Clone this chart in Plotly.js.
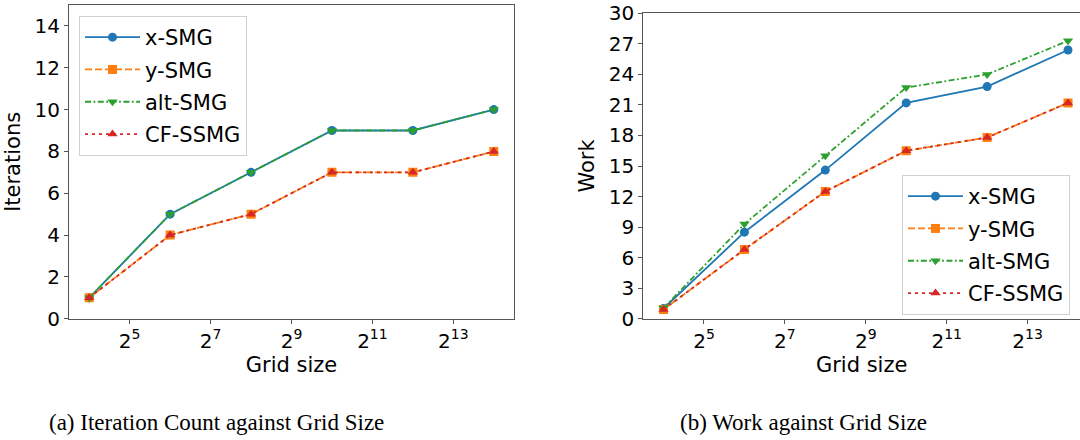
<!DOCTYPE html>
<html><head><meta charset="utf-8">
<script src="https://cdn.plot.ly/plotly-3.0.1.min.js"></script>
<style>html,body{margin:0;padding:0;background:#fff;overflow:hidden}</style>
</head><body><div id="chart" style="width:1080px;height:440px"></div>
<script>
const gridSizes = [16, 64, 256, 1024, 4096, 16384];
const seriesNames = ['x-SMG', 'y-SMG', 'alt-SMG', 'CF-SSMG'];
const iterXSMG = [1, 5, 7, 9, 9, 10];
const iterYSMG = [1, 4, 5, 7, 7, 8];
const iterAltSMG = [1, 5, 7, 9, 9, 10];
const iterCFSSMG = [1, 4, 5, 7, 7, 8];
const workXSMG = [1.0, 8.5, 14.6, 21.2, 22.8, 26.4];
const workYSMG = [0.9, 6.8, 12.5, 16.5, 17.8, 21.2];
const workAltSMG = [1.05, 9.3, 16.0, 22.7, 24.0, 27.3];
const workCFSSMG = [0.9, 6.8, 12.5, 16.5, 17.8, 21.2];
const xTickVals = [32, 128, 512, 2048, 8192];
const xTickText = ['2<sup>5</sup>', '2<sup>7</sup>', '2<sup>9</sup>', '2<sup>11</sup>', '2<sup>13</sup>'];
const captions = ['(a) Iteration Count against Grid Size', '(b) Work against Grid Size'];

const colors = ['#1f77b4', '#ff7f0e', '#2ca02c', '#d62728'];
const symbols = ['circle', 'square', 'triangle-down', 'triangle-up'];
const dashes = ['solid', '7px,3px', '6px,2.5px,1.8px,2.5px', '3px,4px'];

const W = 1080, H = 440;
const L2 = Math.log10(2);
const px = v => v / W;
const py = v => 1 - v / H;

const iterSeries = [iterXSMG, iterYSMG, iterAltSMG, iterCFSSMG];
const workSeries = [workXSMG, workYSMG, workAltSMG, workCFSSMG];

const traces = [];
iterSeries.forEach((ys, i) => {
  traces.push({
    x: gridSizes, y: ys, name: seriesNames[i], type: 'scatter', mode: 'lines+markers',
    xaxis: 'x', yaxis: 'y', legend: 'legend', legendgroup: 'a' + i,
    line: {color: colors[i], width: 1.8, dash: dashes[i]},
    marker: {color: colors[i], symbol: symbols[i], size: 9}
  });
});
workSeries.forEach((ys, i) => {
  traces.push({
    x: gridSizes, y: ys, name: seriesNames[i], type: 'scatter', mode: 'lines+markers',
    xaxis: 'x2', yaxis: 'y2', legend: 'legend2', legendgroup: 'b' + i,
    line: {color: colors[i], width: 1.8, dash: dashes[i]},
    marker: {color: colors[i], symbol: symbols[i], size: 9}
  });
});

const spine = '#555';
const tickFont = {family: 'DejaVu Sans', size: 20, color: '#000'};
const titleFont = {family: 'DejaVu Sans', size: 21, color: '#000'};
function xAxis(domain, r1, anchor) {
  return {
    type: 'log', domain: domain, range: [3.5 * L2, r1 * L2], anchor: anchor,
    tickmode: 'array', tickvals: xTickVals, ticktext: xTickText,
    showgrid: false, zeroline: false, showline: true, mirror: true, linecolor: spine, linewidth: 1,
    ticks: 'outside', ticklen: 4, tickcolor: spine, tickfont: tickFont,
    title: {text: 'Grid size', font: titleFont, standoff: 4}
  };
}
function yAxis(domain, range, dtick, title, mirror, anchor) {
  return {
    domain: domain, range: range, dtick: dtick, tick0: 0, anchor: anchor,
    showgrid: false, zeroline: false, showline: true, mirror: mirror, linecolor: spine, linewidth: 1,
    ticks: 'outside', ticklen: 4, tickcolor: spine, tickfont: tickFont,
    title: {text: title, font: titleFont, standoff: 8}
  };
}
const legendStyle = (x, y) => ({
  x: px(x), y: py(y), xanchor: 'left', yanchor: 'top', xref: 'paper', yref: 'paper',
  bgcolor: 'rgba(255,255,255,0.9)', bordercolor: '#d0d0d0', borderwidth: 1,
  font: {family: 'DejaVu Sans', size: 21, color: '#000'}, tracegroupgap: 2, itemwidth: 55
});

const layout = {
  width: W, height: H, margin: {l: 0, r: 0, t: 0, b: 0},
  paper_bgcolor: '#fff', plot_bgcolor: '#fff', showlegend: true,
  xaxis: xAxis([px(69), px(514)], 14.5, 'y'),
  yaxis: yAxis([py(318.7), py(5)], [0, 15], 2, 'Iterations', true, 'x'),
  xaxis2: xAxis([px(643.3), 1], 3.5 + (1080 - 643.3) / 40.45, 'y2'),
  yaxis2: yAxis([py(318.7), py(13.3)], [0, 30], 3, 'Work', false, 'x2'),
  legend: legendStyle(79, 16),
  legend2: legendStyle(902, 175),
  annotations: [
    {text: captions[0], xref: 'paper', yref: 'paper', x: px(47), y: py(422), xanchor: 'left', yanchor: 'middle',
     showarrow: false, font: {family: 'Liberation Serif', size: 23, color: '#000'}},
    {text: captions[1], xref: 'paper', yref: 'paper', x: px(678), y: py(422), xanchor: 'left', yanchor: 'middle',
     showarrow: false, font: {family: 'Liberation Serif', size: 23, color: '#000'}}
  ]
};
Plotly.newPlot('chart', traces, layout, {displayModeBar: false, staticPlot: true});
</script></body></html>
